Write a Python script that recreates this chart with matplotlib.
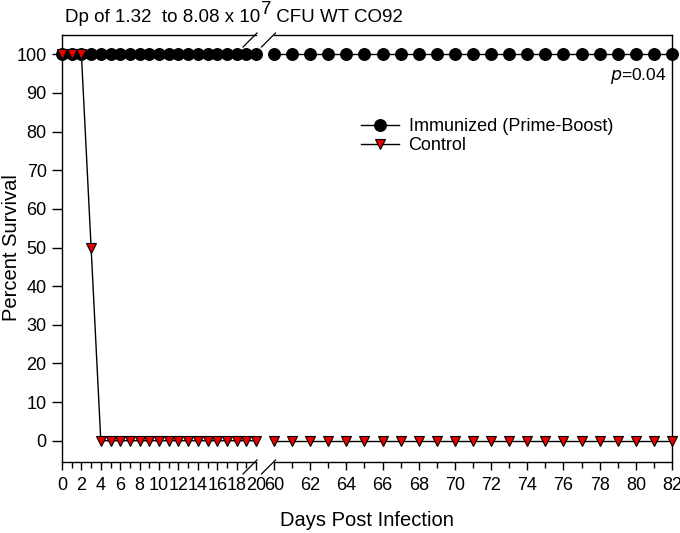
import matplotlib
matplotlib.use("Agg")
import matplotlib.pyplot as plt
from matplotlib.lines import Line2D
from matplotlib.ticker import MultipleLocator

plt.rcParams['font.family'] = ['Liberation Sans', 'DejaVu Sans']
plt.rcParams['mathtext.default'] = 'regular'

# early segment (days 0-20) and late segment (days 60-82)
days_early = list(range(0, 21))
days_late = list(range(60, 83))
immunized_early = [100] * 21
immunized_late = [100] * 23
control_early = [100, 100, 100, 50] + [0] * 17
control_late = [0] * 23

y_ticks = list(range(0, 101, 10))

W, H = 680, 533
fig = plt.figure(figsize=(W / 100, H / 100), dpi=100)

# axes in pixel units -> figure fractions
left1, right1 = 62, 256
left2, right2 = 274, 672
top, bottom = 35, 462


def box(l, r):
    return [l / W, 1 - bottom / H, (r - l) / W, (bottom - top) / H]


ax1 = fig.add_axes(box(left1, right1))
ax2 = fig.add_axes(box(left2, right2))

red = '#e60000'
for ax, d, imm, ctl in [(ax1, days_early, immunized_early, control_early),
                        (ax2, days_late, immunized_late, control_late)]:
    ax.plot(d, imm, color='black', lw=1, marker='o', ms=8.3,
            mfc='black', mec='black', clip_on=False, zorder=3,
            label='Immunized (Prime-Boost)')
    ax.plot(d, ctl, color='black', lw=1, marker='v', ms=7.5,
            mfc=red, mec='black', mew=0.8, clip_on=False, zorder=4,
            label='Control')
    ax.set_ylim(-5.5, 105)
    ax.xaxis.set_major_locator(MultipleLocator(2))
    ax.xaxis.set_minor_locator(MultipleLocator(1))
    ax.tick_params(axis='x', which='major', direction='out', length=6,
                   width=1, labelsize=13, pad=5)
    ax.tick_params(axis='x', which='minor', direction='out', length=4, width=1)
    for s in ax.spines.values():
        s.set_linewidth(1)

ax1.set_xlim(0, 20)
ax2.set_xlim(60, 82)

ax1.spines['right'].set_visible(False)
ax2.spines['left'].set_visible(False)
ax1.set_yticks(y_ticks)
ax1.tick_params(axis='y', direction='out', length=7, width=1, labelsize=13, pad=4)
ax2.set_yticks([])

# break marks
def frac(x, y):
    return x / W, 1 - y / H


for yc in (top, bottom):
    for xc in (250, 268.5):
        (x0, y0), (x1, y1) = frac(xc - 7, yc + 12), frac(xc + 7, yc - 2)
        fig.add_artist(Line2D([x0, x1], [y0, y1], transform=fig.transFigure,
                              color='black', lw=0.9))

fig.text(12 / W, 1 - 248 / H, 'Percent Survival', rotation=90,
         ha='center', va='center', fontsize=14.5)
fig.text(367 / W, 1 - 520 / H, 'Days Post Infection',
         ha='center', va='center', fontsize=14.5)

# title with a full-size raised exponent
renderer = fig.canvas.get_renderer()
t1 = fig.text(65 / W, 1 - 22 / H, 'Dp of 1.32  to 8.08 x 10',
              ha='left', va='baseline', fontsize=13.5)
bb = t1.get_window_extent(renderer)
t2 = fig.text(bb.x1 / W + 0.5 / W, 1 - 14 / H, '7',
              ha='left', va='baseline', fontsize=13.5)
bb2 = t2.get_window_extent(renderer)
fig.text(bb2.x1 / W, 1 - 22 / H, ' CFU WT CO92',
         ha='left', va='baseline', fontsize=13.5)

ax2.text(0.985, 0.905, '$\\mathit{p}$=0.04', transform=ax2.transAxes,
         ha='right', va='center', fontsize=12.5)

ax2.legend(loc='upper left', bbox_to_anchor=(0.218, 0.806), frameon=False,
           fontsize=13, handlelength=2.1, handletextpad=0.55,
           labelspacing=0.12, borderpad=0, borderaxespad=0)

fig.savefig('out.png', dpi=100)
